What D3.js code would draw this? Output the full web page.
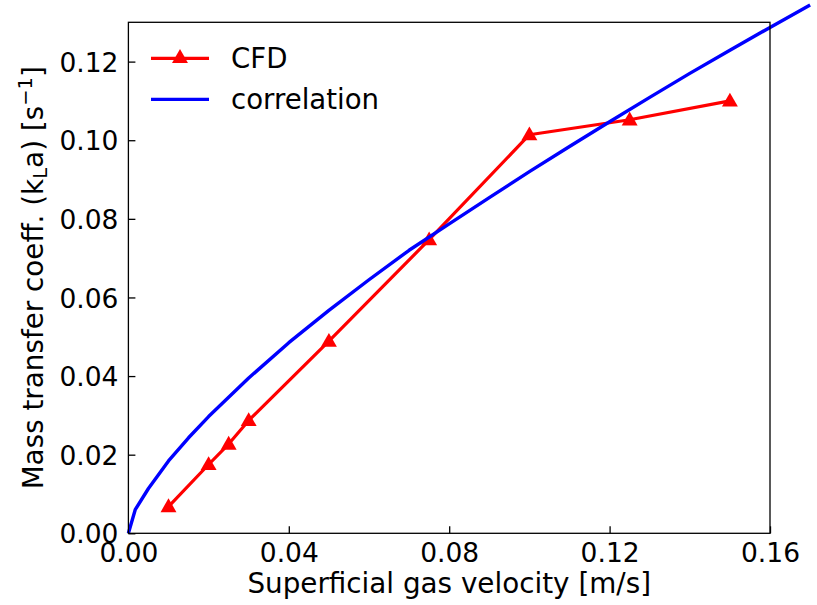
<!DOCTYPE html>
<html>
<head>
<meta charset="utf-8">
<script src="https://cdn.jsdelivr.net/npm/d3@7"></script>
<style>
  body { margin: 0; background: #fff; }
  svg { display: block; font-family: "DejaVu Sans", sans-serif; }
</style>
</head>
<body>
<svg id="chart" width="817" height="605"></svg>
<script>
// kLa vs superficial gas velocity — CFD points against an empirical correlation.

// CFD results
const cfdU   = [0.01, 0.02, 0.025, 0.03, 0.05, 0.075, 0.10, 0.125, 0.15];
const cfdKla = [0.0068, 0.0175, 0.0227, 0.0287, 0.0489, 0.0747, 0.1014, 0.1052, 0.1100];

// correlation curve, sampled off the figure (runs past the axes edge)
const corrU   = [0, 0.0017, 0.005, 0.01, 0.015, 0.02, 0.03, 0.04, 0.05, 0.06, 0.07,
                 0.08, 0.09, 0.10, 0.11, 0.12, 0.13, 0.14, 0.15, 0.16, 0.17];
const corrKla = [0, 0.0060, 0.0114, 0.0184, 0.0243, 0.0297, 0.0395, 0.0485, 0.0567, 0.0645, 0.0720,
                 0.0787, 0.0854, 0.0920, 0.0984, 0.1047, 0.1109, 0.1170, 0.1229, 0.1287, 0.1344];

const xTicks = [0, 0.04, 0.08, 0.12, 0.16];
const yTicks = [0, 0.02, 0.04, 0.06, 0.08, 0.10, 0.12];

const FS = 27.8; // label font size, px
const svg = d3.select("#chart");
const M = { l: 128.4, r: 770, t: 22.3, b: 533.3 };

const x = d3.scaleLinear().domain([0, 0.16]).range([M.l, M.r]);
const y = d3.scaleLinear().domain([0, 0.13]).range([M.b, M.t]);

// ---- axes (ticks point inward, like matplotlib direction='in') ----
const xAxis = d3.axisBottom(x).tickValues(xTicks).tickFormat(d3.format(".2f"))
  .tickSizeInner(-7).tickSizeOuter(0).tickPadding(10);
const yAxis = d3.axisLeft(y).tickValues(yTicks).tickFormat(d3.format(".2f"))
  .tickSizeInner(-7).tickSizeOuter(0).tickPadding(10);

const gx = svg.append("g").attr("transform", `translate(0,${M.b})`).call(xAxis);
const gy = svg.append("g").attr("transform", `translate(${M.l},0)`).call(yAxis);
[gx, gy].forEach((g) => {
  g.attr("font-family", null).attr("font-size", null);
  g.select(".domain").remove();
  g.selectAll(".tick line").attr("stroke", "#000").attr("stroke-width", 1.3);
  g.selectAll(".tick text").style("font-size", "26.5px").attr("fill", "#000");
});
gx.selectAll(".tick text").attr("dy", "0.71em");
gy.selectAll(".tick text").attr("dy", "0.36em");

// ---- data ----
const line = d3.line().x((d) => x(d[0])).y((d) => y(d[1]));
const cfd = cfdU.map((u, i) => [u, cfdKla[i]]);
const corr = corrU.map((u, i) => [u, corrKla[i]]);

svg.append("path").datum(cfd).attr("d", line)
  .attr("fill", "none").attr("stroke", "#ff0000").attr("stroke-width", 3.2)
  .attr("stroke-linejoin", "round");

const tri = d3.symbol().type(d3.symbolTriangle).size(110);
svg.append("g").selectAll("path").data(cfd).join("path")
  .attr("d", tri)
  .attr("transform", (d) => `translate(${x(d[0])},${y(d[1]) + 1})`)
  .attr("fill", "#ff0000");

// correlation drawn on top, not clipped to the axes box
svg.append("path").datum(corr).attr("d", line)
  .attr("fill", "none").attr("stroke", "#0000ff").attr("stroke-width", 3.4)
  .attr("stroke-linejoin", "round");

// ---- frame ----
svg.append("rect")
  .attr("x", M.l).attr("y", M.t).attr("width", M.r - M.l).attr("height", M.b - M.t)
  .attr("fill", "none").attr("stroke", "#000").attr("stroke-width", 1.3);

// ---- labels ----
svg.append("text").style("font-size", FS + "px")
  .attr("x", (M.l + M.r) / 2).attr("y", 593).attr("text-anchor", "middle")
  .text("Superficial gas velocity [m/s]");

const yl = svg.append("text").style("font-size", FS + "px")
  .attr("transform", `translate(43,${(M.t + M.b) / 2}) rotate(-90)`)
  .attr("text-anchor", "middle");
yl.append("tspan").text("Mass transfer coeff. (k");
yl.append("tspan").style("font-size", "19.5px").attr("dy", 4).text("L");
yl.append("tspan").attr("dy", -4).text("a) [s");
yl.append("tspan").style("font-size", "19.5px").attr("dy", -11).text("−1");
yl.append("tspan").attr("dy", 11).text("]");

// ---- legend ----
const lg = svg.append("g");
const items = [
  { label: "CFD", col: "#ff0000", marker: true, yy: 58.3 },
  { label: "correlation", col: "#0000ff", marker: false, yy: 99.3 },
];
items.forEach((it) => {
  lg.append("line").attr("x1", 151).attr("x2", 209).attr("y1", it.yy).attr("y2", it.yy)
    .attr("stroke", it.col).attr("stroke-width", 3.3);
  if (it.marker) {
    lg.append("path").attr("d", tri).attr("fill", it.col)
      .attr("transform", `translate(180,${it.yy})`);
  }
  lg.append("text").style("font-size", "27.6px")
    .attr("x", 231).attr("y", it.yy + 9.5).text(it.label);
});
</script>
</body>
</html>
